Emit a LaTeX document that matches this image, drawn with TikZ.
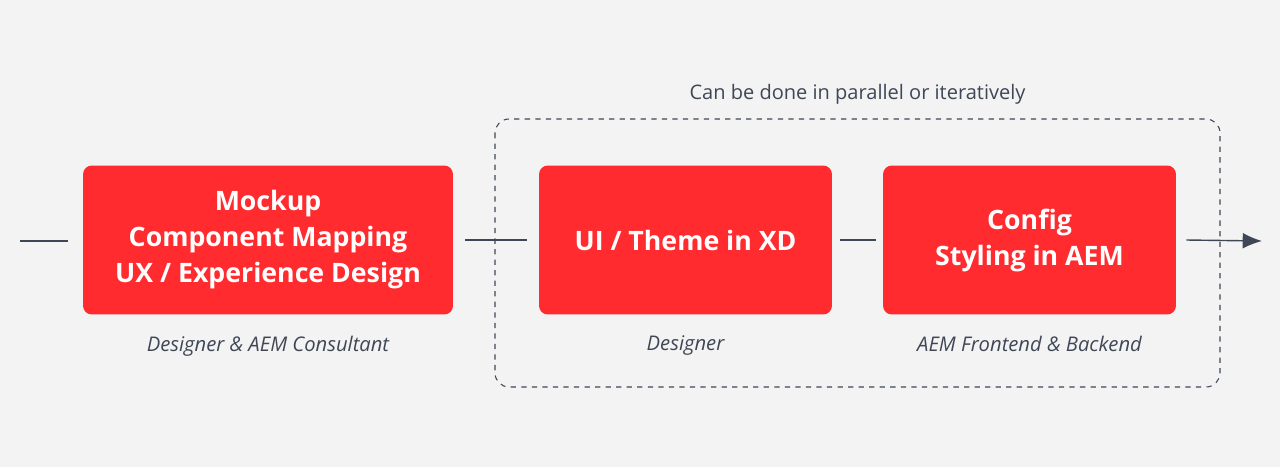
\documentclass[tikz,border=0pt]{standalone}
\usepackage{fontspec}
\setmainfont{Open Sans}
\usetikzlibrary{positioning,arrows.meta}
\definecolor{bgc}{HTML}{F3F3F3}
\definecolor{redbox}{HTML}{FF2B2E}
\definecolor{ink}{HTML}{3F4757}
\tikzset{
  stage/.style={fill=redbox, rounded corners=5pt, text=white, align=center,
    font=\fontsize{15.2}{20.5}\selectfont\bfseries, minimum height=2.98cm},
  role/.style={text=ink, font=\fontsize{11.5}{13}\selectfont\itshape},
  link/.style={draw=ink, line width=0.8pt}
}
\begin{document}
\begin{tikzpicture}[x=0.02cm, y=-0.02cm]
    \fill[bgc] (0,0) rectangle (1280,467);
    \draw[ink, dashed, rounded corners=8pt, line width=0.6pt] (495,119) rectangle (1220,387);
    \node[text=ink, font=\fontsize{11.4}{13}\selectfont] (note) at (857.5,94) {Can be done in parallel or iteratively};
    % stages
    \node[stage, minimum width=7.4cm] (mock) at (268,240) {Mockup\\Component Mapping\\UX / Experience Design};
    \node[stage, minimum width=5.86cm] (ui) at (685.5,240) {UI / Theme in XD};
    \node[stage, minimum width=5.86cm] (cfg) at (1029.5,240) {Config\\Styling in AEM};
    % roles
    \node[role, below=0.3cm of mock] (r1) {Designer \& AEM Consultant};
    \node[role, below=0.3cm of ui] (r2) {Designer};
    \node[role, below=0.3cm of cfg] (r3) {AEM Frontend \& Backend};
    % connectors
    \coordinate (start) at (20,241);
    \coordinate (finish) at (1262,241);
    \draw[link] (start) -- ++(48,0);
    \draw[link] ([xshift=0.24cm]mock.east) -- ([xshift=-0.24cm]ui.west);
    \draw[link] ([xshift=0.16cm]ui.east) -- ([xshift=-0.14cm]cfg.west);
    \draw[link, -{Latex[length=11pt,width=9pt]}] ([xshift=0.2cm]cfg.east) -- (finish);
\end{tikzpicture}
\end{document}
